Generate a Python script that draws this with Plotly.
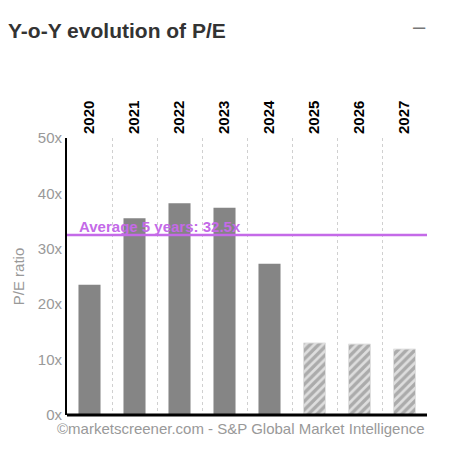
import plotly.graph_objects as go

years = ["2020", "2021", "2022", "2023", "2024", "2025", "2026", "2027"]
pe_actual = [23.5, 35.5, 38.2, 37.4, 27.3, None, None, None]
pe_forecast = [None, None, None, None, None, 13.0, 12.8, 11.9]
avg_5y = 32.5
avg_label = "Average 5 years: 32.5x"
y_ticks = [0, 10, 20, 30, 40, 50]
y_ticktext = ["0x", "10x", "20x", "30x", "40x", "50x"]

FONT = "Liberation Sans, Arial, sans-serif"
PURPLE = "#c46ae8"

fig = go.Figure()
fig.add_trace(go.Bar(
    x=years, y=pe_actual, width=0.49,
    marker=dict(color="#858585", line=dict(width=0)),
    showlegend=False,
))
fig.add_trace(go.Bar(
    x=years, y=pe_forecast, width=0.49,
    marker=dict(color="#858585", line=dict(width=1, color="#e0e0e0"),
                pattern=dict(shape="/", fgcolor="#777777", bgcolor="#dedede",
                             size=6, solidity=0.55)),
    showlegend=False,
))

fig.add_shape(type="line", xref="paper", yref="y", x0=0, x1=1,
              y0=avg_5y, y1=avg_5y, line=dict(color=PURPLE, width=2.5))
fig.add_annotation(xref="paper", yref="y", x=0.028, y=avg_5y, text=avg_label,
                   showarrow=False, xanchor="left", yanchor="bottom", yshift=-2,
                   font=dict(family=FONT, size=15, color=PURPLE, weight="bold"))

fig.add_annotation(xref="paper", yref="paper", x=0.98, y=1.0, text="\u2013",
                   showarrow=False, xanchor="center", yanchor="middle", yshift=112,
                   font=dict(family=FONT, size=22, color="#777777"))
fig.add_annotation(xref="paper", yref="paper", x=1.0, y=0.0,
                   text="\u00a9marketscreener.com - S&P Global Market Intelligence",
                   showarrow=False, xanchor="right", yanchor="top", yshift=-3,
                   font=dict(family=FONT, size=15, color="#999999"))
fig.add_shape(type="rect", xref="paper", yref="paper", x0=1.053, x1=1.12, y0=-0.2, y1=1.6,
              fillcolor="#efefef", line=dict(width=0), layer="above")

fig.update_layout(
    width=442, height=445,
    margin=dict(l=59, r=23, t=130, b=38),
    paper_bgcolor="white", plot_bgcolor="white",
    barmode="overlay",
    font=dict(family=FONT),
    title=dict(text="Y-o-Y evolution of P/E", xref="container", yref="container",
               x=0.0, xanchor="left", y=0.948, yanchor="middle",
               pad=dict(l=0, r=0, t=0, b=0),
               font=dict(family=FONT, size=21, color="#333333", weight="bold")),
    xaxis=dict(
        type="category", side="top", tickangle=-90, automargin=False,
        tickfont=dict(family=FONT, size=15, color="#000000", weight="bold"),
        showgrid=True, gridcolor="#d0d0d0", griddash="dot", gridwidth=1,
        tickson="boundaries", ticks="", showline=False, zeroline=False,
        ticklabelstandoff=3,
    ),
    yaxis=dict(
        range=[0, 50], tickvals=y_ticks, ticktext=y_ticktext, automargin=False,
        tickfont=dict(family=FONT, size=15, color="#999999"),
        showgrid=False, zeroline=False, showline=True, linecolor="#000000", linewidth=2,
        ticks="", ticklen=0,
        title=dict(text="P/E ratio", font=dict(family=FONT, size=15, color="#999999"), standoff=10),
    ),
)
fig.add_shape(type="line", xref="paper", yref="paper", x0=0, x1=1, y0=0, y1=0,
              line=dict(color="#000000", width=3))

fig.write_html("out.html")
